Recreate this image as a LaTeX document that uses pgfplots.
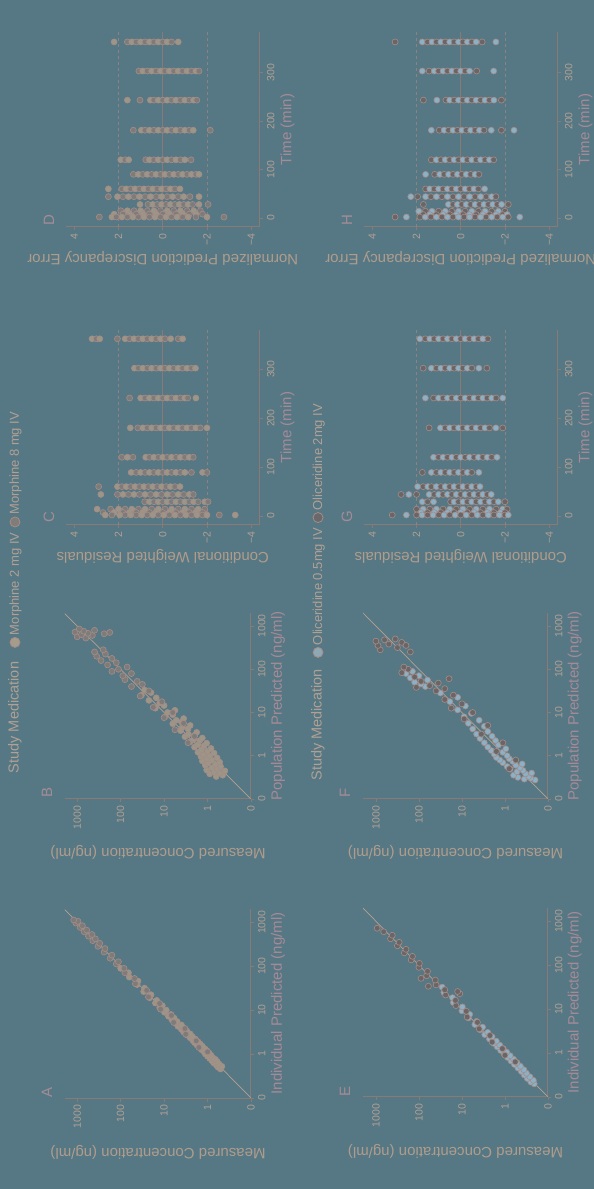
\documentclass[border=0pt]{standalone}
\usepackage{graphicx}
\usepackage{pgfplots}
\usepackage{pgfplotstable}
\pgfplotsset{compat=1.18}
\usepackage{fontspec}
\setmainfont{Liberation Sans}
\definecolor{bg}{RGB}{85,120,132}
\definecolor{axisc}{RGB}{138,122,118}
\definecolor{tickc}{RGB}{178,160,148}
\definecolor{labc1}{RGB}{176,156,140}
\definecolor{labc2}{RGB}{166,138,150}
\definecolor{letc}{RGB}{164,140,150}
\definecolor{refline}{RGB}{184,160,144}
\definecolor{dashc}{RGB}{140,130,130}
\definecolor{mor2}{RGB}{156,150,136}
\definecolor{mor8}{RGB}{126,124,122}
\definecolor{oli05}{RGB}{140,176,198}
\definecolor{oli2}{RGB}{106,102,104}
\definecolor{ptedge}{RGB}{166,140,134}
\definecolor{legm2}{RGB}{165,156,140}
\definecolor{legm8}{RGB}{128,124,122}
\definecolor{lego05}{RGB}{142,168,182}
\definecolor{lego2}{RGB}{106,104,106}

\pgfplotstableread[row sep=\\]{
x y g\\
-0.34 -0.30 a\\ -0.30 -0.24 a\\ -0.28 -0.33 a\\ -0.25 -0.20 a\\ -0.22 -0.26 a\\ -0.20 -0.14 a\\ -0.17 -0.22 a\\ -0.15 -0.10 a\\ -0.12 -0.18 a\\ -0.10 -0.05 a\\
-0.08 -0.12 a\\ -0.05 0.00 a\\ -0.03 -0.08 a\\ 0.00 0.05 a\\ 0.02 -0.04 a\\ 0.05 0.08 a\\ 0.08 0.02 a\\ 0.10 0.14 a\\ 0.12 0.06 a\\ 0.15 0.18 a\\
0.18 0.12 a\\ 0.20 0.24 a\\ 0.23 0.17 a\\ 0.26 0.30 a\\ 0.28 0.22 a\\ 0.31 0.34 a\\ 0.34 0.28 a\\ 0.37 0.40 a\\ 0.40 0.35 a\\ 0.43 0.47 a\\
0.46 0.40 a\\ 0.50 0.55 a\\ 0.53 0.48 a\\ 0.56 0.60 a\\ 0.60 0.56 a\\ 0.63 0.68 a\\ 0.66 0.60 a\\ 0.70 0.74 a\\ 0.74 0.70 a\\ 0.78 0.82 a\\
0.82 0.77 a\\ 0.86 0.90 a\\ 0.90 0.84 a\\ 0.95 0.99 a\\ 1.00 0.95 a\\ 1.05 1.10 a\\ 1.10 1.04 a\\ 1.16 1.20 a\\ 1.22 1.17 a\\ 1.28 1.33 a\\
1.35 1.30 a\\ 1.42 1.47 a\\ 1.50 1.45 a\\ 1.58 1.62 a\\ 1.66 1.60 a\\ 1.75 1.80 a\\ 1.85 1.82 a\\ 1.95 2.00 a\\
0.05 0.00 b\\ 0.15 0.20 b\\ 0.30 0.26 b\\ 0.45 0.50 b\\ 0.58 0.52 b\\ 0.72 0.78 b\\ 0.88 0.83 b\\ 1.02 1.08 b\\ 1.15 1.10 b\\ 1.30 1.36 b\\
1.45 1.40 b\\ 1.60 1.66 b\\ 1.72 1.68 b\\ 1.85 1.90 b\\ 1.95 1.92 b\\ 2.05 2.10 b\\ 2.10 2.05 b\\ 2.18 2.24 b\\ 2.25 2.20 b\\ 2.32 2.38 b\\
2.40 2.36 b\\ 2.45 2.52 b\\ 2.52 2.48 b\\ 2.58 2.64 b\\ 2.62 2.58 b\\ 2.68 2.74 b\\ 2.72 2.66 b\\ 2.78 2.84 b\\ 2.82 2.78 b\\ 2.88 2.93 b\\
2.92 2.88 b\\ 2.98 3.03 b\\ 3.02 2.98 b\\ 3.05 3.08 b\\
}\tabA

\pgfplotstableread[row sep=\\]{
x y g\\
-0.48 -0.20 a\\ -0.45 -0.35 a\\ -0.42 -0.05 a\\ -0.40 -0.28 a\\ -0.38 -0.15 a\\ -0.35 -0.40 a\\ -0.33 0.02 a\\ -0.30 -0.22 a\\ -0.28 -0.10 a\\ -0.25 -0.30 a\\
-0.22 0.05 a\\ -0.20 -0.18 a\\ -0.17 -0.02 a\\ -0.15 -0.28 a\\ -0.12 0.12 a\\ -0.10 -0.10 a\\ -0.07 0.02 a\\ -0.05 -0.22 a\\ -0.02 0.15 a\\ 0.00 -0.05 a\\
0.03 0.10 a\\ 0.06 -0.15 a\\ 0.08 0.22 a\\ 0.11 0.00 a\\ 0.14 0.14 a\\ 0.17 -0.08 a\\ 0.20 0.30 a\\ 0.23 0.08 a\\ 0.26 0.22 a\\ 0.29 0.02 a\\
0.32 0.40 a\\ 0.35 0.18 a\\ 0.38 0.32 a\\ 0.41 0.12 a\\ 0.44 0.52 a\\ 0.47 0.30 a\\ 0.50 0.44 a\\ 0.54 0.25 a\\ 0.58 0.62 a\\ 0.62 0.45 a\\
0.66 0.58 a\\ 0.70 0.40 a\\ 0.74 0.80 a\\ 0.78 0.60 a\\ 0.82 0.72 a\\ 0.86 0.55 a\\ 0.90 0.98 a\\ 0.95 0.80 a\\ 1.00 0.92 a\\ 1.05 0.75 a\\
1.10 1.20 a\\ 1.16 1.00 a\\ 1.22 1.10 a\\ 1.28 1.35 a\\ 1.34 1.18 a\\ 1.40 1.52 a\\ 1.46 1.30 a\\ 1.52 1.45 a\\
0.30 0.45 b\\ 0.45 0.30 b\\ 0.60 0.75 b\\ 0.75 0.55 b\\ 0.88 1.00 b\\ 1.00 0.80 b\\ 1.12 1.25 b\\ 1.25 1.05 b\\ 1.38 1.55 b\\ 1.50 1.35 b\\
1.60 1.75 b\\ 1.65 1.50 b\\ 1.72 1.62 b\\ 1.76 1.90 b\\ 1.85 1.95 b\\ 1.90 1.75 b\\ 1.95 2.20 b\\ 2.00 2.05 b\\ 2.05 1.85 b\\ 2.10 2.30 b\\
2.15 2.10 b\\ 2.20 2.45 b\\ 2.25 2.20 b\\ 2.30 2.55 b\\ 2.35 2.35 b\\ 2.40 2.60 b\\ 2.45 2.40 b\\ 2.72 2.80 b\\ 2.75 3.00 b\\ 2.78 2.65 b\\
2.80 2.90 b\\ 2.83 2.75 b\\ 2.86 3.05 b\\ 2.88 2.85 b\\ 2.90 2.60 b\\ 2.93 2.95 b\\ 2.85 2.25 b\\ 2.82 2.38 b\\
}\tabB

\pgfplotstableread[row sep=\\]{
x y g\\
-0.70 -0.68 a\\ -0.66 -0.60 a\\ -0.62 -0.66 a\\ -0.58 -0.52 a\\ -0.54 -0.58 a\\ -0.50 -0.45 a\\ -0.46 -0.50 a\\ -0.42 -0.38 a\\ -0.38 -0.44 a\\ -0.34 -0.30 a\\
-0.30 -0.36 a\\ -0.26 -0.22 a\\ -0.22 -0.28 a\\ -0.18 -0.14 a\\ -0.14 -0.20 a\\ -0.10 -0.06 a\\ -0.06 -0.12 a\\ -0.02 0.02 a\\ 0.02 -0.04 a\\ 0.06 0.10 a\\
0.10 0.04 a\\ 0.14 0.18 a\\ 0.18 0.12 a\\ 0.22 0.26 a\\ 0.27 0.20 a\\ 0.32 0.36 a\\ 0.37 0.30 a\\ 0.42 0.47 a\\ 0.47 0.40 a\\ 0.53 0.58 a\\
0.59 0.52 a\\ 0.65 0.70 a\\ 0.72 0.66 a\\ 0.80 0.85 a\\ 0.88 0.82 a\\ 0.96 1.00 a\\ 1.05 0.99 a\\ 1.15 1.20 a\\ 1.26 1.22 a\\ 1.38 1.42 a\\ 1.50 1.46 a\\
-0.20 -0.24 b\\ -0.05 0.00 b\\ 0.10 0.06 b\\ 0.25 0.30 b\\ 0.40 0.35 b\\ 0.55 0.60 b\\ 0.70 0.64 b\\ 0.82 0.88 b\\ 0.95 0.90 b\\ 1.08 1.14 b\\
1.20 1.15 b\\ 1.32 1.38 b\\ 1.44 1.40 b\\ 1.55 1.60 b\\ 1.66 1.62 b\\ 1.76 1.82 b\\ 1.86 1.80 b\\ 1.95 2.00 b\\ 2.04 1.99 b\\ 2.12 2.18 b\\
2.20 2.15 b\\ 2.28 2.34 b\\ 2.36 2.30 b\\ 2.44 2.50 b\\ 2.52 2.46 b\\ 2.60 2.66 b\\ 2.68 2.62 b\\ 2.76 2.82 b\\ 2.84 2.97 b\\ 1.70 1.95 b\\
1.52 1.78 b\\ 1.35 1.05 b\\ 1.40 1.10 b\\
}\tabE

\pgfplotstableread[row sep=\\]{
x y g\\
-0.56 -0.70 a\\ -0.54 -0.45 a\\ -0.52 -0.60 a\\ -0.50 -0.30 a\\ -0.48 -0.55 a\\ -0.45 -0.20 a\\ -0.42 -0.48 a\\ -0.40 -0.62 a\\ -0.37 -0.28 a\\ -0.34 -0.42 a\\
-0.31 -0.12 a\\ -0.28 -0.35 a\\ -0.25 -0.05 a\\ -0.22 -0.25 a\\ -0.19 -0.40 a\\ -0.16 0.05 a\\ -0.13 -0.18 a\\ -0.10 0.12 a\\ -0.07 -0.10 a\\ -0.04 0.20 a\\
0.00 -0.05 a\\ 0.04 0.25 a\\ 0.08 0.05 a\\ 0.12 0.32 a\\ 0.16 -0.02 a\\ 0.20 0.40 a\\ 0.25 0.15 a\\ 0.30 0.48 a\\ 0.35 0.22 a\\ 0.40 0.58 a\\
0.45 0.30 a\\ 0.50 0.66 a\\ 0.56 0.40 a\\ 0.62 0.75 a\\ 0.68 0.48 a\\ 0.75 0.85 a\\ 0.82 0.60 a\\ 0.90 0.95 a\\ 0.98 0.78 a\\ 1.06 1.10 a\\
1.15 0.92 a\\ 1.25 1.28 a\\ 1.35 1.10 a\\ 1.45 1.50 a\\ 1.60 1.85 a\\ 1.66 1.95 a\\ 1.70 2.10 a\\ 1.75 1.80 a\\ 1.80 2.20 a\\ 1.85 2.00 a\\
1.90 2.30 a\\ 1.95 2.15 a\\
-0.30 -0.10 b\\ -0.10 -0.25 b\\ 0.10 0.20 b\\ 0.30 0.05 b\\ 0.50 0.55 b\\ 0.70 0.40 b\\ 0.85 0.95 b\\ 1.00 0.75 b\\ 1.10 1.25 b\\ 1.20 1.00 b\\
1.30 1.40 b\\ 1.40 1.20 b\\ 1.50 1.60 b\\ 1.55 1.40 b\\ 1.62 1.75 b\\ 1.68 1.55 b\\ 1.78 1.30 b\\ 1.58 2.06 b\\ 1.72 1.95 b\\ 1.82 2.10 b\\
1.92 2.40 b\\ 2.00 2.25 b\\ 2.05 2.35 b\\ 2.40 2.20 b\\ 2.45 2.90 b\\ 2.50 2.50 b\\ 2.55 2.95 b\\ 2.58 2.70 b\\ 2.62 2.40 b\\ 2.65 3.00 b\\
2.68 2.80 b\\ 2.70 2.55 b\\ 2.55 2.30 b\\
}\tabF

\pgfplotstableread[row sep=\\]{
t v g\\
362 3.2 a\\ 362 3.0 b\\ 362 2.85 a\\ 362 2.05 b\\ 362 1.7 a\\ 362 1.5 b\\ 362 1.3 a\\ 362 1.1 b\\ 362 0.9 a\\ 362 0.7 b\\ 362 0.5 a\\ 362 0.3 b\\ 362 0.1 a\\ 362 -0.1 b\\ 362 -0.36 a\\ 362 -0.7 b\\ 362 -0.9 a\\
302 1.28 a\\ 302 1.1 b\\ 302 0.9 a\\ 302 0.7 b\\ 302 0.5 a\\ 302 0.3 b\\ 302 0.1 a\\ 302 -0.1 b\\ 302 -0.3 a\\ 302 -0.5 b\\ 302 -0.7 a\\ 302 -0.9 b\\ 302 -1.1 a\\ 302 -1.3 b\\ 302 -1.48 a\\
241 1.5 b\\ 241 1.0 a\\ 241 0.8 b\\ 241 0.6 a\\ 241 0.4 b\\ 241 0.2 a\\ 241 0.0 b\\ 241 -0.2 a\\ 241 -0.4 b\\ 241 -0.6 a\\ 241 -0.8 b\\ 241 -1.0 a\\ 241 -1.13 b\\ 241 -1.5 a\\
180 1.47 a\\ 180 1.13 b\\ 180 0.9 a\\ 180 0.7 b\\ 180 0.5 a\\ 180 0.3 b\\ 180 0.1 a\\ 180 -0.1 b\\ 180 -0.3 a\\ 180 -0.5 b\\ 180 -0.7 a\\ 180 -0.9 b\\ 180 -1.1 a\\ 180 -1.3 b\\ 180 -1.5 a\\ 180 -1.7 b\\ 180 -2.0 a\\
120 1.85 b\\ 120 1.6 a\\ 120 1.35 b\\ 120 0.77 a\\ 120 0.6 b\\ 120 0.4 a\\ 120 0.2 b\\ 120 0.0 a\\ 120 -0.2 b\\ 120 -0.4 a\\ 120 -0.6 b\\ 120 -0.8 a\\ 120 -1.0 b\\ 120 -1.2 a\\ 120 -1.38 b\\
89 1.43 a\\ 89 1.2 b\\ 89 1.0 a\\ 89 0.8 b\\ 89 0.6 a\\ 89 0.4 b\\ 89 0.2 a\\ 89 0.0 b\\ 89 -0.2 a\\ 89 -0.4 b\\ 89 -0.6 a\\ 89 -0.8 b\\ 89 -1.0 a\\ 89 -1.3 b\\ 89 -1.8 a\\ 89 -2.0 b\\
60 2.9 b\\ 60 2.05 a\\ 60 1.85 b\\ 60 1.65 a\\ 60 1.45 b\\ 60 1.25 a\\ 60 1.05 b\\ 60 0.85 a\\ 60 0.65 b\\ 60 0.45 a\\ 60 0.25 b\\ 60 0.05 a\\ 60 -0.15 b\\ 60 -0.35 a\\ 60 -0.55 b\\ 60 -0.78 a\\
44 2.8 a\\ 44 2.05 b\\ 44 1.8 a\\ 44 1.55 b\\ 44 1.3 a\\ 44 1.05 b\\ 44 0.8 a\\ 44 0.55 b\\ 44 0.3 a\\ 44 0.05 b\\ 44 -0.2 a\\ 44 -0.45 b\\ 44 -0.7 a\\ 44 -0.95 b\\ 44 -1.2 a\\ 44 -1.38 b\\
29 0.82 b\\ 29 0.6 a\\ 29 0.4 b\\ 29 0.2 a\\ 29 0.0 b\\ 29 -0.2 a\\ 29 -0.4 b\\ 29 -0.6 a\\ 29 -0.8 b\\ 29 -1.0 a\\ 29 -1.2 b\\ 29 -1.4 a\\ 29 -1.6 b\\ 29 -1.9 a\\ 29 -2.05 b\\
14 2.97 a\\ 14 2.36 b\\ 14 2.0 a\\ 14 1.7 b\\ 14 1.4 a\\ 14 1.1 b\\ 14 0.8 a\\ 14 0.5 b\\ 14 0.2 a\\ 14 -0.1 b\\ 14 -0.4 a\\ 14 -0.7 b\\ 14 -1.0 a\\ 14 -1.3 b\\ 14 -1.6 a\\ 14 -1.9 b\\
7 2.7 b\\ 7 2.2 a\\ 7 1.8 b\\ 7 1.5 a\\ 7 1.2 b\\ 7 0.9 a\\ 7 0.6 b\\ 7 0.3 a\\ 7 0.0 b\\ 7 -0.3 a\\ 7 -0.6 b\\ 7 -0.9 a\\ 7 -1.2 b\\ 7 -1.5 a\\ 7 -1.8 b\\
2 2.6 a\\ 2 2.3 b\\ 2 1.95 a\\ 2 1.7 b\\ 2 1.45 a\\ 2 1.2 b\\ 2 0.95 a\\ 2 0.7 b\\ 2 0.45 a\\ 2 0.2 b\\ 2 -0.05 a\\ 2 -0.3 b\\ 2 -0.55 a\\ 2 -0.8 b\\ 2 -1.05 a\\ 2 -1.3 b\\ 2 -1.55 a\\ 2 -1.8 b\\ 2 -2.0 a\\ 2 -2.56 b\\ 2 -3.28 a\\
}\tabC

\pgfplotstableread[row sep=\\]{
t v g\\
363 2.2 a\\ 363 1.6 b\\ 363 1.4 a\\ 363 1.2 b\\ 363 1.0 a\\ 363 0.8 b\\ 363 0.6 a\\ 363 0.4 b\\ 363 0.2 a\\ 363 0.0 b\\ 363 -0.2 a\\ 363 -0.4 b\\ 363 -0.7 a\\
303 1.08 b\\ 303 0.9 a\\ 303 0.7 b\\ 303 0.5 a\\ 303 0.3 b\\ 303 0.1 a\\ 303 -0.1 b\\ 303 -0.3 a\\ 303 -0.5 b\\ 303 -0.7 a\\ 303 -0.9 b\\ 303 -1.1 a\\ 303 -1.3 b\\ 303 -1.5 a\\ 303 -1.64 b\\
243 1.6 a\\ 243 1.03 b\\ 243 0.56 a\\ 243 0.4 b\\ 243 0.2 a\\ 243 0.0 b\\ 243 -0.2 a\\ 243 -0.4 b\\ 243 -0.6 a\\ 243 -0.8 b\\ 243 -1.0 a\\ 243 -1.2 b\\ 243 -1.4 a\\ 243 -1.54 b\\
181 1.33 b\\ 181 0.97 a\\ 181 0.8 b\\ 181 0.6 a\\ 181 0.4 b\\ 181 0.2 a\\ 181 0.0 b\\ 181 -0.2 a\\ 181 -0.4 b\\ 181 -0.6 a\\ 181 -0.8 b\\ 181 -1.0 a\\ 181 -1.2 b\\ 181 -1.38 a\\ 181 -2.15 b\\
120 1.9 a\\ 120 1.7 b\\ 120 1.54 a\\ 120 0.77 b\\ 120 0.6 a\\ 120 0.4 b\\ 120 0.2 a\\ 120 0.0 b\\ 120 -0.2 a\\ 120 -0.4 b\\ 120 -0.6 a\\ 120 -0.8 b\\ 120 -1.0 a\\ 120 -1.28 b\\
90 1.33 b\\ 90 1.1 a\\ 90 0.9 b\\ 90 0.7 a\\ 90 0.5 b\\ 90 0.3 a\\ 90 0.1 b\\ 90 -0.1 a\\ 90 -0.3 b\\ 90 -0.5 a\\ 90 -0.7 b\\ 90 -0.9 a\\ 90 -1.1 b\\ 90 -1.3 a\\ 90 -1.5 b\\ 90 -1.64 a\\
60 2.46 a\\ 60 1.85 b\\ 60 1.65 a\\ 60 1.45 b\\ 60 1.25 a\\ 60 1.05 b\\ 60 0.85 a\\ 60 0.65 b\\ 60 0.45 a\\ 60 0.25 b\\ 60 0.05 a\\ 60 -0.15 b\\ 60 -0.35 a\\ 60 -0.55 b\\ 60 -0.78 a\\
44 2.46 b\\ 44 2.05 a\\ 44 1.8 b\\ 44 1.55 a\\ 44 1.3 b\\ 44 1.05 a\\ 44 0.8 b\\ 44 0.55 a\\ 44 0.3 b\\ 44 0.05 a\\ 44 -0.2 b\\ 44 -0.45 a\\ 44 -0.7 b\\ 44 -0.95 a\\ 44 -1.23 b\\ 44 -1.64 a\\
28 1.03 a\\ 28 0.67 b\\ 28 0.45 a\\ 28 0.25 b\\ 28 0.05 a\\ 28 -0.15 b\\ 28 -0.35 a\\ 28 -0.55 b\\ 28 -0.75 a\\ 28 -0.95 b\\ 28 -1.15 a\\ 28 -1.35 b\\ 28 -1.64 a\\ 28 -2.05 b\\
15 1.9 b\\ 15 1.6 a\\ 15 1.3 b\\ 15 1.0 a\\ 15 0.7 b\\ 15 0.4 a\\ 15 0.1 b\\ 15 -0.2 a\\ 15 -0.5 b\\ 15 -0.8 a\\ 15 -1.1 b\\ 15 -1.4 a\\ 15 -1.7 b\\
8 2.2 a\\ 8 1.8 b\\ 8 1.5 a\\ 8 1.2 b\\ 8 0.9 a\\ 8 0.6 b\\ 8 0.3 a\\ 8 0.0 b\\ 8 -0.3 a\\ 8 -0.6 b\\ 8 -0.9 a\\ 8 -1.2 b\\ 8 -1.5 a\\ 8 -1.8 b\\
2 2.87 b\\ 2 2.3 a\\ 2 2.1 b\\ 2 1.85 a\\ 2 1.6 b\\ 2 1.35 a\\ 2 1.1 b\\ 2 0.85 a\\ 2 0.6 b\\ 2 0.35 a\\ 2 0.1 b\\ 2 -0.15 a\\ 2 -0.4 b\\ 2 -0.65 a\\ 2 -0.9 b\\ 2 -1.15 a\\ 2 -1.5 b\\ 2 -2.0 a\\ 2 -2.77 b\\
}\tabD

\pgfplotstableread[row sep=\\]{
t v g\\
362 1.85 a\\ 362 1.6 b\\ 362 1.4 a\\ 362 1.2 b\\ 362 1.0 a\\ 362 0.8 b\\ 362 0.6 a\\ 362 0.4 b\\ 362 0.2 a\\ 362 0.0 b\\ 362 -0.2 a\\ 362 -0.4 b\\ 362 -0.6 a\\ 362 -0.8 b\\ 362 -1.0 a\\ 362 -1.23 b\\
302 1.7 b\\ 302 1.33 a\\ 302 1.1 b\\ 302 0.9 a\\ 302 0.7 b\\ 302 0.5 a\\ 302 0.3 b\\ 302 0.1 a\\ 302 -0.1 b\\ 302 -0.3 a\\ 302 -0.5 b\\ 302 -0.82 a\\ 302 -1.18 b\\
241 1.6 a\\ 241 1.23 b\\ 241 1.0 a\\ 241 0.8 b\\ 241 0.6 a\\ 241 0.4 b\\ 241 0.2 a\\ 241 0.0 b\\ 241 -0.2 a\\ 241 -0.4 b\\ 241 -0.6 a\\ 241 -0.8 b\\ 241 -1.0 a\\ 241 -1.2 b\\ 241 -1.4 a\\ 241 -1.6 b\\ 241 -1.9 a\\
180 1.43 b\\ 180 0.92 a\\ 180 0.7 b\\ 180 0.5 a\\ 180 0.3 b\\ 180 0.1 a\\ 180 -0.1 b\\ 180 -0.3 a\\ 180 -0.5 b\\ 180 -0.7 a\\ 180 -0.9 b\\ 180 -1.1 a\\ 180 -1.3 b\\ 180 -1.59 a\\ 180 -1.9 b\\
120 1.23 a\\ 120 1.0 b\\ 120 0.8 a\\ 120 0.6 b\\ 120 0.4 a\\ 120 0.2 b\\ 120 0.0 a\\ 120 -0.2 b\\ 120 -0.4 a\\ 120 -0.6 b\\ 120 -0.8 a\\ 120 -1.0 b\\ 120 -1.2 a\\ 120 -1.4 b\\ 120 -1.64 a\\
89 1.74 b\\ 89 1.33 a\\ 89 1.1 b\\ 89 0.9 a\\ 89 0.7 b\\ 89 0.5 a\\ 89 0.3 b\\ 89 0.1 a\\ 89 -0.1 b\\ 89 -0.3 a\\ 89 -0.5 b\\ 89 -0.82 a\\
60 1.95 a\\ 60 1.7 b\\ 60 1.49 a\\ 60 1.33 b\\ 60 1.1 a\\ 60 0.9 b\\ 60 0.7 a\\ 60 0.5 b\\ 60 0.3 a\\ 60 0.1 b\\ 60 -0.1 a\\ 60 -0.3 b\\ 60 -0.5 a\\ 60 -0.7 b\\ 60 -0.87 a\\
44 2.7 b\\ 44 2.35 a\\ 44 2.0 b\\ 44 1.43 a\\ 44 1.2 b\\ 44 1.0 a\\ 44 0.8 b\\ 44 0.6 a\\ 44 0.4 b\\ 44 0.2 a\\ 44 0.0 b\\ 44 -0.2 a\\ 44 -0.4 b\\ 44 -0.6 a\\ 44 -0.8 b\\ 44 -1.0 a\\ 44 -1.2 b\\ 44 -1.38 a\\
29 1.74 a\\ 29 1.5 b\\ 29 1.23 a\\ 29 0.46 b\\ 29 0.3 a\\ 29 0.1 b\\ 29 -0.1 a\\ 29 -0.3 b\\ 29 -0.5 a\\ 29 -0.7 b\\ 29 -0.9 a\\ 29 -1.1 b\\ 29 -1.3 a\\ 29 -1.5 b\\ 29 -1.7 a\\ 29 -2.0 b\\
14 2.0 b\\ 14 1.7 a\\ 14 1.4 b\\ 14 1.1 a\\ 14 0.8 b\\ 14 0.5 a\\ 14 0.2 b\\ 14 -0.1 a\\ 14 -0.4 b\\ 14 -0.7 a\\ 14 -1.0 b\\ 14 -1.3 a\\ 14 -1.6 b\\ 14 -1.9 a\\ 14 -2.1 b\\
7 1.8 a\\ 7 1.5 b\\ 7 1.2 a\\ 7 0.9 b\\ 7 0.6 a\\ 7 0.3 b\\ 7 0.0 a\\ 7 -0.3 b\\ 7 -0.6 a\\ 7 -0.9 b\\ 7 -1.2 a\\ 7 -1.5 b\\ 7 -1.8 a\\ 7 -2.0 b\\
2 3.1 b\\ 2 2.46 a\\ 2 2.0 b\\ 2 1.75 a\\ 2 1.5 b\\ 2 1.25 a\\ 2 1.0 b\\ 2 0.75 a\\ 2 0.5 b\\ 2 0.25 a\\ 2 0.0 b\\ 2 -0.25 a\\ 2 -0.5 b\\ 2 -0.75 a\\ 2 -1.0 b\\ 2 -1.25 a\\ 2 -1.5 b\\ 2 -1.75 a\\ 2 -2.0 b\\ 2 -2.15 a\\
}\tabG

\pgfplotstableread[row sep=\\]{
t v g\\
363 2.97 b\\ 363 1.74 a\\ 363 1.5 b\\ 363 1.3 a\\ 363 1.1 b\\ 363 0.9 a\\ 363 0.7 b\\ 363 0.5 a\\ 363 0.3 b\\ 363 0.1 a\\ 363 -0.1 b\\ 363 -0.3 a\\ 363 -0.5 b\\ 363 -0.7 a\\ 363 -0.97 b\\ 363 -1.59 a\\
303 1.74 a\\ 303 1.43 b\\ 303 1.2 a\\ 303 1.0 b\\ 303 0.8 a\\ 303 0.6 b\\ 303 0.4 a\\ 303 0.2 b\\ 303 0.0 a\\ 303 -0.2 b\\ 303 -0.4 a\\ 303 -0.72 b\\ 303 -1.49 a\\
243 1.69 b\\ 243 1.08 a\\ 243 0.67 b\\ 243 0.5 a\\ 243 0.3 b\\ 243 0.1 a\\ 243 -0.1 b\\ 243 -0.3 a\\ 243 -0.5 b\\ 243 -0.7 a\\ 243 -0.9 b\\ 243 -1.1 a\\ 243 -1.3 b\\ 243 -1.5 a\\ 243 -1.84 b\\
181 1.33 a\\ 181 0.97 b\\ 181 0.75 a\\ 181 0.55 b\\ 181 0.35 a\\ 181 0.15 b\\ 181 -0.05 a\\ 181 -0.25 b\\ 181 -0.45 a\\ 181 -0.65 b\\ 181 -0.85 a\\ 181 -1.05 b\\ 181 -1.38 a\\ 181 -1.84 b\\ 181 -2.41 a\\
120 1.33 b\\ 120 1.1 a\\ 120 0.9 b\\ 120 0.7 a\\ 120 0.5 b\\ 120 0.3 a\\ 120 0.1 b\\ 120 -0.1 a\\ 120 -0.3 b\\ 120 -0.5 a\\ 120 -0.7 b\\ 120 -0.9 a\\ 120 -1.1 b\\ 120 -1.3 a\\ 120 -1.49 b\\
90 1.59 a\\ 90 1.18 b\\ 90 0.95 a\\ 90 0.75 b\\ 90 0.55 a\\ 90 0.35 b\\ 90 0.15 a\\ 90 -0.05 b\\ 90 -0.25 a\\ 90 -0.45 b\\ 90 -0.65 a\\ 90 -0.82 b\\
60 1.59 b\\ 60 1.4 a\\ 60 1.2 b\\ 60 1.0 a\\ 60 0.8 b\\ 60 0.6 a\\ 60 0.4 b\\ 60 0.2 a\\ 60 0.0 b\\ 60 -0.2 a\\ 60 -0.4 b\\ 60 -0.6 a\\ 60 -0.8 b\\ 60 -1.08 a\\
44 2.26 a\\ 44 1.95 b\\ 44 1.59 a\\ 44 1.35 b\\ 44 1.1 a\\ 44 0.85 b\\ 44 0.6 a\\ 44 0.35 b\\ 44 0.1 a\\ 44 -0.15 b\\ 44 -0.4 a\\ 44 -0.65 b\\ 44 -0.9 a\\ 44 -1.15 b\\ 44 -1.4 a\\ 44 -1.59 b\\
28 1.69 b\\ 28 0.56 a\\ 28 0.35 b\\ 28 0.15 a\\ 28 -0.05 b\\ 28 -0.25 a\\ 28 -0.45 b\\ 28 -0.65 a\\ 28 -0.85 b\\ 28 -1.05 a\\ 28 -1.25 b\\ 28 -1.45 a\\ 28 -1.65 b\\ 28 -1.85 a\\ 28 -2.15 b\\
14 1.9 a\\ 14 1.6 b\\ 14 1.3 a\\ 14 1.0 b\\ 14 0.7 a\\ 14 0.4 b\\ 14 0.1 a\\ 14 -0.2 b\\ 14 -0.5 a\\ 14 -0.8 b\\ 14 -1.1 a\\ 14 -1.4 b\\ 14 -1.7 a\\ 14 -2.0 b\\
7 1.7 b\\ 7 1.4 a\\ 7 1.1 b\\ 7 0.8 a\\ 7 0.5 b\\ 7 0.2 a\\ 7 -0.1 b\\ 7 -0.4 a\\ 7 -0.7 b\\ 7 -1.0 a\\ 7 -1.3 b\\ 7 -1.6 a\\ 7 -1.9 b\\ 7 -2.1 a\\
2 2.97 b\\ 2 2.46 a\\ 2 1.85 b\\ 2 1.6 a\\ 2 1.35 b\\ 2 1.1 a\\ 2 0.85 b\\ 2 0.6 a\\ 2 0.35 b\\ 2 0.1 a\\ 2 -0.15 b\\ 2 -0.4 a\\ 2 -0.65 b\\ 2 -0.9 a\\ 2 -1.15 b\\ 2 -1.4 a\\ 2 -1.65 b\\ 2 -1.9 a\\ 2 -2.15 b\\ 2 -2.67 a\\
}\tabH

\pgfplotsset{
  base/.style={scale only axis, anchor=south west,
    axis x line*=bottom, axis y line*=left,
    axis line style={draw=axisc, line width=1pt, -},
    tick align=outside, major tick length=3.5pt,
    tick style={draw=axisc, line width=0.8pt},
    ticklabel style={font=\fontsize{10.5}{12}\selectfont, text=tickc},
    /pgf/number format/assume math mode=true,
    xlabel style={font=\fontsize{15}{18}\selectfont, text=labc2, anchor=center},
    ylabel style={font=\fontsize{15}{18}\selectfont, text=labc1, anchor=center}},
  conc/.style={base, width=189pt, height=186pt, xmin=-1, xmax=3.3, ymin=-1, ymax=3.28,
    xtick={-1,0,1,2,3}, xticklabels={0,1,10,100,1000},
    ytick={-1,0,1,2,3}, yticklabels={0,1,10,100,1000},
    ylabel={Measured Concentration (ng/ml)},
    xlabel style={at={(axis description cs:0.5,-0.145)}},
    ylabel style={at={(axis description cs:-0.286,0.5)}}},
  resid/.style={base, width=195pt, height=194.5pt, ymin=-4.4, ymax=4.4,
    ytick={-4,-2,0,2,4}, yticklabels={−4,−2,0,2,4}, xtick={0,100,200,300},
    xlabel={Time (min)},
    xlabel style={at={(axis description cs:0.5,-0.142)}},
    ylabel style={at={(axis description cs:-0.162,0.5)}}},
  pts/.style={scatter, only marks, mark=*, mark size=3pt, scatter src=explicit symbolic},
  mor/.style={pts, scatter/classes={a={mark=*, fill=mor2, draw=ptedge, line width=0.6pt}, b={mark=*, fill=mor8, draw=ptedge, line width=0.6pt}}},
  oli/.style={pts, scatter/classes={a={mark=*, fill=oli05, draw=ptedge, line width=0.6pt}, b={mark=*, fill=oli2, draw=ptedge, line width=0.6pt}}},
  idline/.style={refline, line width=0.7pt, no marks, forget plot},
  legs/.style={legend columns=2, legend style={draw=none, fill=none, font=\fontsize{13}{15}\selectfont, text=tickc, inner sep=0pt, nodes={inner sep=2pt}, /tikz/every even column/.append style={column sep=3pt}},
    legend image code/.code={\draw[##1] (5pt,0pt) circle[radius=5pt];}},
}

\begin{document}
\rotatebox{90}{%
\begin{tikzpicture}[x=1pt,y=1pt]
\useasboundingbox (0,0) rectangle (1189,594);
\fill[bg] (0,0) rectangle (1189,594);

% ---- A
\begin{axis}[conc, at={(91pt,343pt)}, xlabel={Individual Predicted (ng/ml)}]
\addplot[idline] coordinates {(-1,-1) (3.3,3.3)};
\addplot[mor] table[x=x, y=y, meta=g] {\tabA};
\end{axis}
% ---- B
\begin{axis}[conc, at={(390pt,343pt)}, width=186pt, xlabel={Population Predicted (ng/ml)}, legs,
  legend style={at={(0.8118,1.2688)}, anchor=west}]
\addplot[idline] coordinates {(-1,-1) (3.3,3.3)};
\addplot[mor, forget plot] table[x=x, y=y, meta=g] {\tabB};
\addlegendimage{fill=legm2, draw=ptedge, line width=0.8pt}
\addlegendentry{Morphine 2 mg IV}
\addlegendimage{fill=legm8, draw=ptedge, line width=0.8pt}
\addlegendentry{Morphine 8 mg IV}
\end{axis}
% ---- E
\begin{axis}[conc, at={(92pt,46pt)}, height=185pt, ymax=3.3, xlabel={Individual Predicted (ng/ml)}]
\addplot[idline] coordinates {(-1,-1) (3.3,3.3)};
\addplot[oli] table[x=x, y=y, meta=g] {\tabE};
\end{axis}
% ---- F
\begin{axis}[conc, at={(390pt,46pt)}, width=186pt, height=185pt, ymax=3.3, xlabel={Population Predicted (ng/ml)}, legs,
  legend style={at={(0.758,1.243)}, anchor=west}]
\addplot[idline] coordinates {(-1,-1) (3.3,3.3)};
\addplot[oli, forget plot] table[x=x, y=y, meta=g] {\tabF};
\addlegendimage{fill=lego05, draw=ptedge, line width=0.8pt}
\addlegendentry{Oliceridine 0.5mg IV}
\addlegendimage{fill=lego2, draw=ptedge, line width=0.8pt}
\addlegendentry{Oliceridine 2mg IV}
\end{axis}
% ---- C
\begin{axis}[resid, at={(664pt,334pt)}, xmin=-18.4, xmax=380, ylabel={Conditional Weighted Residuals}]
\addplot[dashc, dashed, line width=0.6pt] coordinates {(-18.4,2) (380,2)};
\addplot[dashc, dashed, line width=0.6pt] coordinates {(-18.4,-2) (380,-2)};
\addplot[axisc, line width=1pt] coordinates {(-18.4,0) (380,0)};
\addplot[mor] table[x=t, y=v, meta=g] {\tabC};
\end{axis}
% ---- D
\begin{axis}[resid, at={(962pt,334pt)}, xmin=-18.5, xmax=383.5, ylabel={Normalized Prediction Discrepancy Error}]
\addplot[dashc, dashed, line width=0.6pt] coordinates {(-18.5,2) (383.5,2)};
\addplot[dashc, dashed, line width=0.6pt] coordinates {(-18.5,-2) (383.5,-2)};
\addplot[axisc, line width=1pt] coordinates {(-18.5,0) (383.5,0)};
\addplot[mor] table[x=t, y=v, meta=g] {\tabD};
\end{axis}
% ---- G
\begin{axis}[resid, at={(664pt,36pt)}, xmin=-18.4, xmax=380, ylabel={Conditional Weighted Residuals}]
\addplot[dashc, dashed, line width=0.6pt] coordinates {(-18.4,2) (380,2)};
\addplot[dashc, dashed, line width=0.6pt] coordinates {(-18.4,-2) (380,-2)};
\addplot[axisc, line width=1pt] coordinates {(-18.4,0) (380,0)};
\addplot[oli] table[x=t, y=v, meta=g] {\tabG};
\end{axis}
% ---- H
\begin{axis}[resid, at={(962pt,36pt)}, xmin=-18.5, xmax=383.5, ylabel={Normalized Prediction Discrepancy Error}]
\addplot[dashc, dashed, line width=0.6pt] coordinates {(-18.5,2) (383.5,2)};
\addplot[dashc, dashed, line width=0.6pt] coordinates {(-18.5,-2) (383.5,-2)};
\addplot[axisc, line width=1pt] coordinates {(-18.5,0) (383.5,0)};
\addplot[oli] table[x=t, y=v, meta=g] {\tabH};
\end{axis}

\begin{scope}[every node/.style={font=\fontsize{15}{18}\selectfont, text=letc, inner sep=0pt}]
\node at (97,547) {A};
\node at (396,547) {B};
\node at (672,545) {C};
\node at (969,545) {D};
\node at (98,249) {E};
\node at (396,249) {F};
\node at (672,247) {G};
\node at (969,247) {H};
\end{scope}
\node[font=\fontsize{14.5}{17}\selectfont, text=tickc, inner sep=0pt] at (471.5,579) {Study Medication};
\node[font=\fontsize{14.5}{17}\selectfont, text=tickc, inner sep=0pt] at (464,276) {Study Medication};
\end{tikzpicture}}
\end{document}
